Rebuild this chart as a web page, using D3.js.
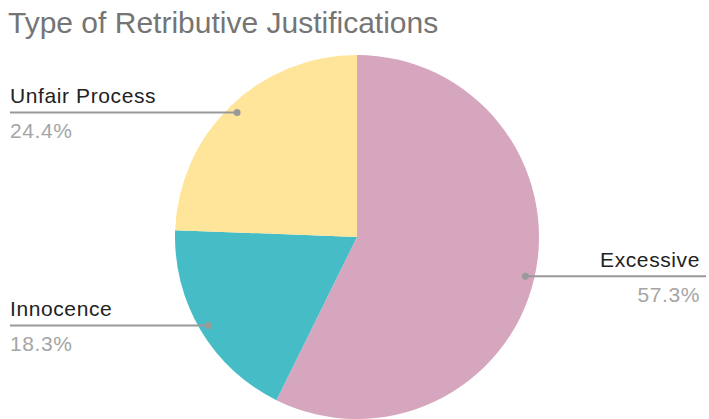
<!DOCTYPE html>
<html><head><meta charset="utf-8">
<script src="https://cdn.jsdelivr.net/npm/d3@7"></script>
<style>body{margin:0;background:#fff}svg{display:block}</style>
</head><body>
<script>
const categories = ["Excessive", "Innocence", "Unfair Process"];
const values = [57.3, 18.3, 24.4];
const colors = ["#d5a6bd", "#46bdc6", "#ffe599"];
const labelText = ["57.3%", "18.3%", "24.4%"];

const W = 709, H = 419;
const cx = 357, cy = 237, R = 182;
const FONT = "'Liberation Sans', Arial, sans-serif";
const svg = d3.select("body").append("svg").attr("width", W).attr("height", H);

svg.append("text").attr("x", 8).attr("y", 33)
  .attr("font-family", FONT).attr("font-size", 30)
  .attr("fill", "#757575").text("Type of Retributive Justifications");

const data = categories.map((c, i) => ({cat: c, v: values[i], color: colors[i], pct: labelText[i]}));
const pie = d3.pie().value(d => d.v).sort(null);
const arcs = pie(data);
const arc = d3.arc().innerRadius(0).outerRadius(R);
const g = svg.append("g").attr("transform", `translate(${cx},${cy})`);
g.selectAll("path").data(arcs).join("path").attr("d", arc).attr("fill", d => d.data.color);

const inner = d3.arc().innerRadius(R * 0.95).outerRadius(R * 0.95);
arcs.forEach(a => {
  const [px, py] = inner.centroid(a);
  const x = cx + px, y = cy + py;
  const right = x > cx;
  const endX = right ? 706 : 10;
  svg.append("line").attr("x1", x).attr("y1", y).attr("x2", endX).attr("y2", y)
    .attr("stroke", "#999").attr("stroke-width", 2);
  svg.append("circle").attr("cx", x).attr("cy", y).attr("r", 3.5).attr("fill", "#999");
  const tx = right ? 700 : 10;
  const anchor = right ? "end" : "start";
  svg.append("text").attr("x", tx).attr("y", y - 9).attr("text-anchor", anchor)
    .attr("font-family", FONT).attr("font-size", 21).attr("letter-spacing", 0.6)
    .attr("fill", "#222").text(a.data.cat);
  svg.append("text").attr("x", tx).attr("y", y + 26).attr("text-anchor", anchor)
    .attr("font-family", FONT).attr("font-size", 21).attr("letter-spacing", 0.6)
    .attr("fill", "#a5a5a5").text(a.data.pct);
});
</script>
</body></html>
